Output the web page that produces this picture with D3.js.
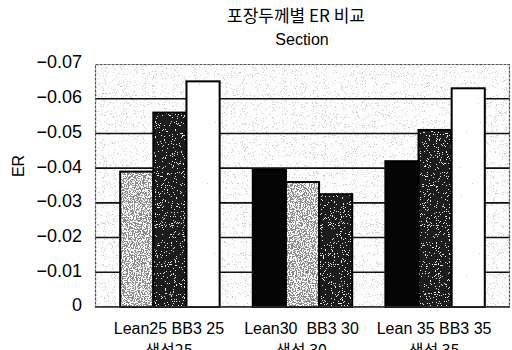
<!DOCTYPE html>
<html>
<head>
<meta charset="utf-8">
<script src="https://cdn.jsdelivr.net/npm/d3@7"></script>
<style>
  html, body { margin: 0; padding: 0; background: #fff; }
  svg { display: block; }
  text { font-family: "Liberation Sans", Arial, "Noto Sans CJK KR", sans-serif; fill: #000; }
  .kr { font-family: "Noto Sans CJK KR", "Liberation Sans", sans-serif; }
</style>
</head>
<body>
<svg id="chart" width="512" height="350"></svg>
<script>
// Category labels (two lines each)
const categoryLine1 = ["Lean25 BB3 25", "Lean30  BB3 30", "Lean 35 BB3 35"];
const categoryLine2 = ["생석25", "생석 30", "생석 35"];
// Bar values per category, left to right
const firstBar  = [-0.039, -0.0395, -0.042];
const secondBar = [-0.056, -0.036, -0.051];
const thirdBar  = [-0.065, -0.0325, -0.063];
// Y axis ticks
const tickValues = [0, -0.01, -0.02, -0.03, -0.04, -0.05, -0.06, -0.07];
const tickLabels = ["0", "-0.01", "-0.02", "-0.03", "-0.04", "-0.05", "-0.06", "-0.07"];

// Fill style for each bar (per category, left to right)
const barStyles = [
  ["light", "dark", "white"],
  ["black", "light", "dark"],
  ["black", "dark", "white"]
];

const svg = d3.select("#chart");
const margin = { left: 95, right: 2, top: 64, bottom: 43 };
const W = 512, H = 350;
const plotL = margin.left, plotR = W - margin.right, plotT = margin.top, plotB = H - margin.bottom;

// Speckle textures
const defs = svg.append("defs");
function speckle(id, color, table, freq, seed) {
  const f = defs.append("filter").attr("id", id)
    .attr("x", 0).attr("y", 0).attr("width", 1).attr("height", 1)
    .attr("filterUnits", "objectBoundingBox");
  f.append("feTurbulence").attr("type", "fractalNoise")
    .attr("baseFrequency", freq).attr("numOctaves", 2).attr("seed", seed).attr("result", "noise");
  const c = d3.color(color);
  const r = c.r / 255, g = c.g / 255, b = c.b / 255;
  f.append("feColorMatrix").attr("in", "noise").attr("type", "matrix")
    .attr("values", `0 0 0 0 ${r}  0 0 0 0 ${g}  0 0 0 0 ${b}  1 0 0 0 0`).attr("result", "tinted");
  const ct = f.append("feComponentTransfer").attr("in", "tinted").attr("result", "dots");
  ct.append("feFuncA").attr("type", "discrete").attr("tableValues", table);
  f.append("feComposite").attr("in", "dots").attr("in2", "SourceGraphic").attr("operator", "in");
}
speckle("spk-bg", "#8a8a8a", "0 0 0 0 0 0 0 0 0.7 1 1 1", 0.9, 7);
speckle("spk-light", "#ffffff", "0 0 0 0 0 0.9 1 1 1 1", 0.85, 3);
speckle("spk-dark", "#c8c8c8", "0 0 0 0 0 0 0 0 1 1 1 1", 0.9, 11);
speckle("spk-white", "#9a9a9a", "0 0 0 0 0 0 0 0 0 0 1 1", 0.9, 5);

const baseFill = { light: "#8c8c8c", dark: "#1c1c1c", black: "#050505", white: "#ffffff" };
const overlay = { light: "spk-light", dark: "spk-dark", black: null, white: "spk-white" };

// Scales
const x = d3.scaleBand().domain(d3.range(categoryLine1.length))
  .range([plotL, plotR]).paddingInner(0.25).paddingOuter(0.19);
const xInner = d3.scaleBand().domain([0, 1, 2]).range([0, x.bandwidth()]);
const y = d3.scaleLinear().domain([0, -0.07]).range([plotB, plotT]);

// Plot background
svg.append("rect").attr("x", plotL).attr("y", plotT)
  .attr("width", plotR - plotL).attr("height", plotB - plotT).attr("fill", "#fcfcfc");
svg.append("rect").attr("x", plotL).attr("y", plotT)
  .attr("width", plotR - plotL).attr("height", plotB - plotT).attr("fill", "#000")
  .attr("filter", "url(#spk-bg)");

// Gridlines
svg.append("g").selectAll("line").data(tickValues.filter(v => v !== 0 && v !== -0.07)).join("line")
  .attr("x1", plotL).attr("x2", plotR)
  .attr("y1", d => y(d)).attr("y2", d => y(d))
  .attr("stroke", "#111").attr("stroke-width", 1.6);

// Bars
const barData = [];
categoryLine1.forEach((_, i) => {
  [firstBar[i], secondBar[i], thirdBar[i]].forEach((v, j) => {
    barData.push({ cat: i, idx: j, value: v, style: barStyles[i][j] });
  });
});
const bars = svg.append("g").selectAll("g").data(barData).join("g")
  .attr("transform", d => `translate(${x(d.cat) + xInner(d.idx)},0)`);
bars.append("rect")
  .attr("x", 0).attr("y", d => y(d.value))
  .attr("width", xInner.bandwidth()).attr("height", d => y(0) - y(d.value))
  .attr("fill", d => baseFill[d.style]);
bars.filter(d => overlay[d.style]).append("rect")
  .attr("x", 0).attr("y", d => y(d.value))
  .attr("width", xInner.bandwidth()).attr("height", d => y(0) - y(d.value))
  .attr("fill", "#000")
  .attr("filter", d => `url(#${overlay[d.style]})`);
bars.append("rect")
  .attr("x", 0).attr("y", d => y(d.value))
  .attr("width", xInner.bandwidth()).attr("height", d => y(0) - y(d.value))
  .attr("fill", "none").attr("stroke", "#000").attr("stroke-width", 2);

// Plot frame
svg.append("rect").attr("x", plotL + 0.5).attr("y", plotT + 0.5)
  .attr("width", plotR - plotL - 1).attr("height", plotB - plotT - 1)
  .attr("fill", "none").attr("stroke", "#555").attr("stroke-width", 1.2)
  .attr("stroke-dasharray", "3 1");
svg.append("line").attr("x1", plotL).attr("x2", plotR).attr("y1", plotB).attr("y2", plotB)
  .attr("stroke", "#222").attr("stroke-width", 1.5);

// Y axis labels
const yAxis = d3.axisLeft(y).tickValues(tickValues)
  .tickFormat((d, i) => tickLabels[i].replace("-", "\u2212"))
  .tickSize(0).tickPadding(13);
const yg = svg.append("g").attr("transform", `translate(${plotL},0)`).call(yAxis);
yg.select(".domain").remove();
yg.selectAll("text").attr("font-size", 18).attr("dy", "0.22em")
  .style("font-family", '"Liberation Sans", Arial, sans-serif').attr("fill", "#000");

// X axis labels
const xl = svg.append("g").selectAll("g").data(d3.range(categoryLine1.length)).join("g")
  .attr("transform", i => `translate(${x(i) + x.bandwidth() / 2 - 1},0)`);
xl.append("text").attr("y", 334).attr("text-anchor", "middle").attr("font-size", 16)
  .style("white-space", "pre").text(i => categoryLine1[i]);
xl.append("text").attr("class", "kr").attr("y", 356).attr("text-anchor", "middle")
  .attr("font-size", 16).text(i => categoryLine2[i]);

// Y axis title
svg.append("text").attr("transform", "translate(24,166) rotate(-90)")
  .attr("text-anchor", "middle").attr("font-size", 16).text("ER");

// Chart title
svg.append("text").attr("class", "kr").attr("x", 296).attr("y", 22)
  .attr("text-anchor", "middle").attr("font-size", 17).text("포장두께별 ER 비교");
svg.append("text").attr("x", 302).attr("y", 45)
  .attr("text-anchor", "middle").attr("font-size", 16).text("Section");
</script>
</body>
</html>
